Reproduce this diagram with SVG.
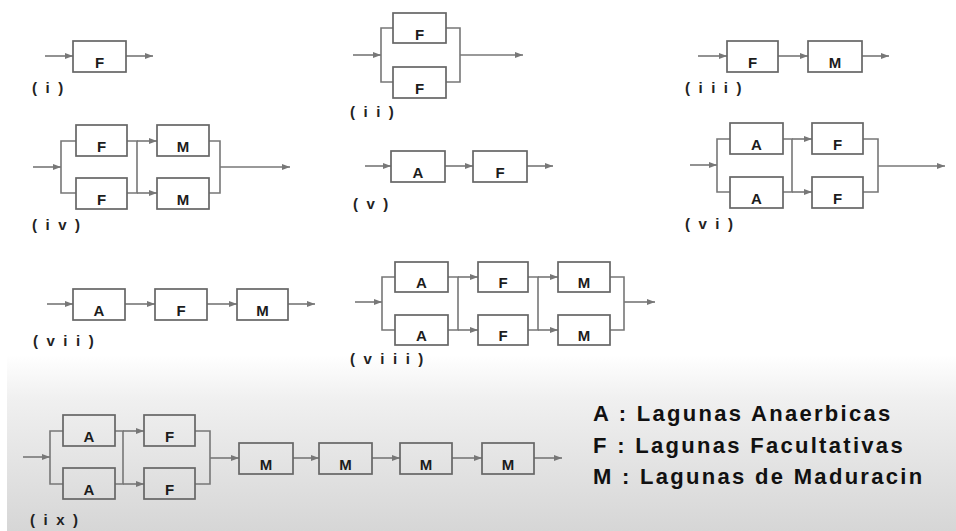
<svg xmlns="http://www.w3.org/2000/svg" width="956" height="531" viewBox="0 0 956 531">
<defs>
<linearGradient id="bg" x1="0" y1="0" x2="0" y2="1">
<stop offset="0" stop-color="#ffffff"/>
<stop offset="0.25" stop-color="#f0f0f0"/>
<stop offset="1" stop-color="#d6d6d6"/>
</linearGradient>
<marker id="ah" markerUnits="userSpaceOnUse" markerWidth="9" markerHeight="7" refX="8" refY="3.5" orient="auto">
<path d="M0,0.5 L8,3.5 L0,6.5 z" fill="#777"/>
</marker>
<style>
.box rect{fill:none;stroke:#666;stroke-width:1.7}
.box text{font-family:"Liberation Sans",Arial,sans-serif;font-weight:bold;font-size:15px;fill:#1c1c1c;text-anchor:middle}
#connectors path{fill:none;stroke:#777;stroke-width:1.6}
#connectors .a{marker-end:url(#ah)}
.lbl{font-family:"Liberation Sans",Arial,sans-serif;font-weight:bold;font-size:15px;fill:#222;letter-spacing:8.5px}
.leg{font-family:"Liberation Sans",Arial,sans-serif;font-weight:bold;font-size:22px;fill:#111;letter-spacing:2.3px}
</style>
</defs>
<rect x="0" y="0" width="956" height="531" fill="#ffffff"/>
<rect x="7" y="355" width="949" height="176" fill="url(#bg)"/>

<g id="connectors">
<!-- (i) -->
<path class="a" d="M45,56 H73"/><path class="a" d="M126,56 H153"/>
<!-- (ii) -->
<path class="a" d="M353,55 H381"/>
<path d="M393,28 H381 V82 H393"/>
<path d="M446,28 H460 V82 H446"/>
<path class="a" d="M460,55 H523"/>
<!-- (iii) -->
<path class="a" d="M698,56 H727"/><path class="a" d="M778,56 H808"/><path class="a" d="M862,56 H889"/>
<!-- (iv) -->
<path class="a" d="M33,167 H61"/>
<path d="M76,141 H61 V193 H76"/>
<path d="M127,141 H137 V193 H127"/>
<path class="a" d="M137,141 H157"/><path class="a" d="M137,193 H157"/>
<path d="M209,141 H220 V193 H209"/>
<path class="a" d="M220,167 H290"/>
<!-- (v) -->
<path class="a" d="M365,166 H391"/><path class="a" d="M445,166 H473"/><path class="a" d="M527,166 H553"/>
<!-- (vi) -->
<path class="a" d="M690,165 H717"/>
<path d="M730,139 H717 V192 H730"/>
<path d="M783,139 H792 V192 H783"/>
<path class="a" d="M792,139 H812"/><path class="a" d="M792,192 H812"/>
<path d="M863,139 H878 V192 H863"/>
<path class="a" d="M878,166 H945"/>
<!-- (vii) -->
<path class="a" d="M47,304 H73"/><path class="a" d="M125,304 H155"/><path class="a" d="M207,304 H237"/><path class="a" d="M288,304 H315"/>
<!-- (viii) -->
<path class="a" d="M355,302 H382"/>
<path d="M395,277 H382 V330 H395"/>
<path d="M448,277 H458 V330 H448"/>
<path class="a" d="M458,277 H478"/><path class="a" d="M458,330 H478"/>
<path d="M528,277 H538 V330 H528"/>
<path class="a" d="M538,277 H558"/><path class="a" d="M538,330 H558"/>
<path d="M610,277 H624 V330 H610"/>
<path class="a" d="M624,302 H655"/>
<!-- (ix) -->
<path class="a" d="M23,457 H50"/>
<path d="M63,431 H50 V484 H63"/>
<path d="M115,431 H123 V484 H115"/>
<path class="a" d="M123,431 H144"/><path class="a" d="M123,484 H144"/>
<path d="M195,431 H210 V484 H195"/>
<path class="a" d="M210,458 H239"/>
<path class="a" d="M293,458 H319"/><path class="a" d="M372,458 H400"/><path class="a" d="M452,458 H482"/><path class="a" d="M534,458 H562"/>
</g>

<!-- (i) -->
<g id="i-F" class="box"><rect x="73" y="41" width="53" height="31"/><text x="99.5" y="68">F</text></g>
<!-- (ii) -->
<g id="ii-F1" class="box"><rect x="393" y="13" width="53" height="30"/><text x="419.5" y="40">F</text></g>
<g id="ii-F2" class="box"><rect x="393" y="67" width="53" height="31"/><text x="419.5" y="94">F</text></g>
<!-- (iii) -->
<g id="iii-F" class="box"><rect x="727" y="41" width="51" height="31"/><text x="752.5" y="68">F</text></g>
<g id="iii-M" class="box"><rect x="808" y="41" width="54" height="31"/><text x="835" y="68">M</text></g>
<!-- (iv) -->
<g id="iv-F1" class="box"><rect x="76" y="125" width="51" height="31"/><text x="101.5" y="152">F</text></g>
<g id="iv-F2" class="box"><rect x="76" y="178" width="51" height="31"/><text x="101.5" y="205">F</text></g>
<g id="iv-M1" class="box"><rect x="157" y="125" width="52" height="31"/><text x="183" y="152">M</text></g>
<g id="iv-M2" class="box"><rect x="157" y="178" width="52" height="31"/><text x="183" y="205">M</text></g>
<!-- (v) -->
<g id="v-A" class="box"><rect x="391" y="151" width="54" height="31"/><text x="418" y="178">A</text></g>
<g id="v-F" class="box"><rect x="473" y="151" width="54" height="31"/><text x="500" y="178">F</text></g>
<!-- (vi) -->
<g id="vi-A1" class="box"><rect x="730" y="123" width="53" height="31"/><text x="756.5" y="150">A</text></g>
<g id="vi-A2" class="box"><rect x="730" y="177" width="53" height="31"/><text x="756.5" y="204">A</text></g>
<g id="vi-F1" class="box"><rect x="812" y="123" width="51" height="31"/><text x="837.5" y="150">F</text></g>
<g id="vi-F2" class="box"><rect x="812" y="177" width="51" height="31"/><text x="837.5" y="204">F</text></g>
<!-- (vii) -->
<g id="vii-A" class="box"><rect x="73" y="289" width="52" height="31"/><text x="99" y="316">A</text></g>
<g id="vii-F" class="box"><rect x="155" y="289" width="52" height="31"/><text x="181" y="316">F</text></g>
<g id="vii-M" class="box"><rect x="237" y="289" width="51" height="31"/><text x="262.5" y="316">M</text></g>
<!-- (viii) -->
<g id="viii-A1" class="box"><rect x="395" y="262" width="53" height="30"/><text x="421.5" y="288">A</text></g>
<g id="viii-A2" class="box"><rect x="395" y="315" width="53" height="30"/><text x="421.5" y="341">A</text></g>
<g id="viii-F1" class="box"><rect x="478" y="262" width="50" height="30"/><text x="503" y="288">F</text></g>
<g id="viii-F2" class="box"><rect x="478" y="315" width="50" height="30"/><text x="503" y="341">F</text></g>
<g id="viii-M1" class="box"><rect x="558" y="262" width="52" height="30"/><text x="584" y="288">M</text></g>
<g id="viii-M2" class="box"><rect x="558" y="315" width="52" height="30"/><text x="584" y="341">M</text></g>
<!-- (ix) -->
<g id="ix-A1" class="box"><rect x="63" y="415" width="52" height="31"/><text x="89" y="442">A</text></g>
<g id="ix-A2" class="box"><rect x="63" y="468" width="52" height="31"/><text x="89" y="495">A</text></g>
<g id="ix-F1" class="box"><rect x="144" y="415" width="51" height="31"/><text x="169.5" y="442">F</text></g>
<g id="ix-F2" class="box"><rect x="144" y="468" width="51" height="31"/><text x="169.5" y="495">F</text></g>
<g id="ix-M1" class="box"><rect x="239" y="443" width="54" height="31"/><text x="266" y="470">M</text></g>
<g id="ix-M2" class="box"><rect x="319" y="443" width="53" height="31"/><text x="345.5" y="470">M</text></g>
<g id="ix-M3" class="box"><rect x="400" y="443" width="52" height="31"/><text x="426" y="470">M</text></g>
<g id="ix-M4" class="box"><rect x="482" y="443" width="52" height="31"/><text x="508" y="470">M</text></g>

<g id="labels">
<text class="lbl" x="32" y="93">(i)</text>
<text class="lbl" x="350" y="117">(ii)</text>
<text class="lbl" x="685" y="93">(iii)</text>
<text class="lbl" x="32" y="230">(iv)</text>
<text class="lbl" x="353" y="209">(v)</text>
<text class="lbl" x="685" y="229">(vi)</text>
<text class="lbl" x="33" y="346">(vii)</text>
<text class="lbl" x="350" y="364">(viii)</text>
<text class="lbl" x="30" y="525">(ix)</text>
</g>

<g id="legend">
<text class="leg" x="593" y="421">A : Lagunas Anaerbicas</text>
<text class="leg" x="593" y="453">F : Lagunas Facultativas</text>
<text class="leg" x="593" y="484">M : Lagunas de Maduracin</text>
</g>
</svg>
